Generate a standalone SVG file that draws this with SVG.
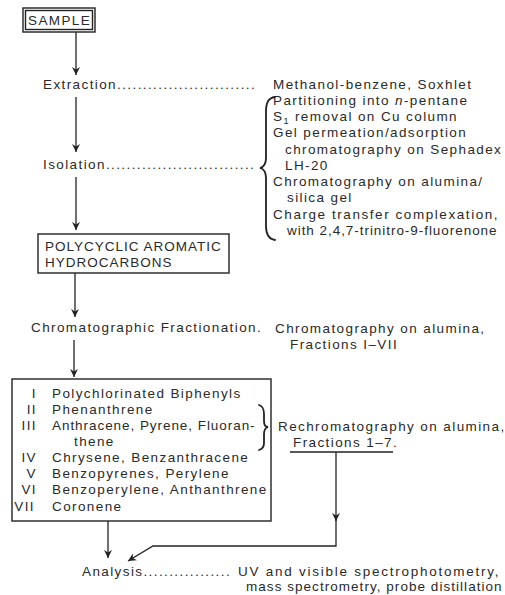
<svg xmlns="http://www.w3.org/2000/svg" width="505" height="595" viewBox="0 0 505 595">
<defs>
<marker id="ah" viewBox="0 0 10 10" refX="10" refY="5" markerWidth="9" markerHeight="8" markerUnits="userSpaceOnUse" orient="auto">
<path d="M0,0 L10,5 L0,10 L3,5 z" fill="#222"/>
</marker>
<style>
text{font-family:"Liberation Sans",Arial,sans-serif;font-size:13.5px;letter-spacing:1.4px;fill:#2a2a2a}
.caps{letter-spacing:1px}
.box{fill:none;stroke:#222;stroke-width:1.4}
.ln{fill:none;stroke:#222;stroke-width:1.3}
.arr{fill:none;stroke:#222;stroke-width:1.3;marker-end:url(#ah)}
.brace{fill:none;stroke:#222;stroke-width:1.8;stroke-linecap:round}
</style>
</defs>
<rect width="505" height="595" fill="#fff"/>

<g id="sample">
<rect class="box" x="23" y="8" width="72" height="24" stroke-width="1.8"/>
<rect class="box" x="25.5" y="10.5" width="67" height="19" stroke-width="0.9"/>
<text x="28" y="25">SAMPLE</text>
</g>

<g id="extraction">
<text x="43" y="89">Extraction...........................</text>
<text x="273" y="89">Methanol-benzene, Soxhlet</text>
</g>

<g id="isolation">
<text x="43" y="169">Isolation.............................</text>
<path class="brace" d="M275,97 C268,98 266,103 266,112 L266,158 C266,164 264,167 260,168 C264,169 266,172 266,178 L266,226 C266,234 268,239 275,240"/>
<text x="273" y="105">Partitioning into <tspan font-style="italic">n</tspan>-pentane</text>
<text x="273" y="121">S<tspan font-size="9" dy="3">1</tspan><tspan dy="-3"> removal on Cu column</tspan></text>
<text x="273" y="137">Gel permeation/adsorption</text>
<text x="285" y="154">chromatography on Sephadex</text>
<text x="285" y="170">LH-20</text>
<text x="273" y="186">Chromatography on alumina/</text>
<text x="287" y="202">silica gel</text>
<text x="273" y="219" textLength="226" lengthAdjust="spacing">Charge transfer complexation,</text>
<text x="287" y="235" textLength="211" lengthAdjust="spacing">with 2,4,7-trinitro-9-fluorenone</text>
</g>

<g id="pah">
<rect class="box" x="38" y="234" width="191" height="39"/>
<text class="caps" x="45" y="251">POLYCYCLIC AROMATIC</text>
<text class="caps" x="45" y="267">HYDROCARBONS</text>
</g>

<g id="fractionation">
<text x="31" y="332">Chromatographic Fractionation.</text>
<text x="275" y="333">Chromatography on alumina,</text>
<text x="290" y="349">Fractions I–VII</text>
</g>

<g id="fractions">
<rect class="box" x="12" y="379" width="259" height="142"/>
<g text-anchor="end">
<text x="37" y="398">I</text>
<text x="37" y="414">II</text>
<text x="37" y="430">III</text>
<text x="37" y="462">IV</text>
<text x="37" y="478">V</text>
<text x="37" y="494">VI</text>
<text x="35" y="511">VII</text>
</g>
<text x="52" y="398">Polychlorinated Biphenyls</text>
<text x="52" y="414">Phenanthrene</text>
<text x="52" y="430" textLength="204" lengthAdjust="spacing">Anthracene, Pyrene, Fluoran-</text>
<text x="74" y="446">thene</text>
<text x="52" y="462">Chrysene, Benzanthracene</text>
<text x="52" y="478">Benzopyrenes, Perylene</text>
<text x="52" y="494">Benzoperylene, Anthanthrene</text>
<text x="52" y="511">Coronene</text>
<path class="brace" stroke-width="1.4" d="M259,405 C263,406 264,409 264,414 L264,421 C264,425 265,427 268,427 C265,428 264,430 264,434 L264,443 C264,447 263,449 259,450"/>
</g>

<g id="rechromatography">
<text x="278" y="431">Rechromatography on alumina,</text>
<text x="293" y="447">Fractions 1–7.</text>
<line class="ln" x1="290" y1="452" x2="393" y2="452"/>
</g>

<g id="analysis">
<text x="82" y="576">Analysis.................</text>
<text x="238" y="576" textLength="262" lengthAdjust="spacing">UV and visible spectrophotometry,</text>
<text x="246" y="591" textLength="257" lengthAdjust="spacing">mass spectrometry, probe distillation</text>
</g>

<g id="connectors">
<line class="arr" x1="76" y1="32" x2="76" y2="75"/>
<line class="arr" x1="76" y1="97" x2="76" y2="152"/>
<line class="arr" x1="76" y1="177" x2="76" y2="230"/>
<line class="arr" x1="75" y1="273" x2="75" y2="317"/>
<line class="arr" x1="74" y1="340" x2="74" y2="377"/>
<line class="arr" x1="108" y1="521" x2="108" y2="558"/>
<line class="arr" x1="336" y1="452" x2="336" y2="521"/>
<path class="arr" d="M336,519 L336,546 L153,546 L128,561"/>
</g>
</svg>
